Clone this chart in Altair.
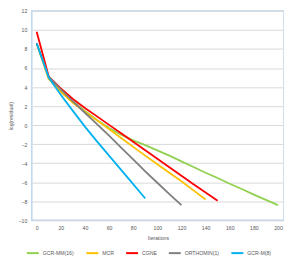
import altair as alt
import pandas as pd

series = ["GCR-MM(16)", "MCR", "CGNE", "ORTHOMIN(1)", "GCR-M(8)"]
colors = ["#92D050", "#FFC000", "#FF0000", "#7F7F7F", "#00B0F0"]

gcrmm_x = [0, 10, 20, 30, 40, 50, 60, 70, 80, 90, 100, 110, 120, 130, 140, 150, 160, 170, 180, 190, 200]
gcrmm_y = [8.6, 4.95, 3.65, 2.5, 1.5, 0.55, -0.3, -1.0, -1.6, -2.1, -2.65, -3.2, -3.8, -4.4, -5.0, -5.55, -6.15, -6.7, -7.3, -7.85, -8.4]

mcr_x = [0, 10, 20, 30, 40, 50, 60, 70, 80, 90, 100, 110, 120, 130, 140]
mcr_y = [8.6, 4.85, 3.5, 2.35, 1.4, 0.5, -0.42, -1.35, -2.28, -3.2, -4.1, -5.0, -5.9, -6.85, -7.8]

cgne_x = [0, 10, 20, 30, 40, 50, 60, 70, 80, 90, 100, 110, 120, 130, 140, 150]
cgne_y = [9.8, 5.1, 3.85, 2.75, 1.8, 0.92, 0.03, -0.86, -1.75, -2.64, -3.53, -4.42, -5.31, -6.2, -7.08, -7.95]

orth_x = [0, 10, 20, 30, 40, 50, 60, 70, 80, 90, 100, 110, 120]
orth_y = [8.6, 5.1, 3.75, 2.5, 1.3, 0.1, -1.1, -2.35, -3.6, -4.85, -6.05, -7.25, -8.4]

gcrm_x = [0, 10, 20, 30, 40, 50, 60, 70, 80, 90]
gcrm_y = [8.6, 5.0, 3.2, 1.5, -0.15, -1.7, -3.2, -4.7, -6.2, -7.7]

x_ticks = [0, 20, 40, 60, 80, 100, 120, 140, 160, 180, 200]
y_ticks = [-10, -8, -6, -4, -2, 0, 2, 4, 6, 8, 10, 12]

rows = []
for name, xs, ys in [
    ("GCR-MM(16)", gcrmm_x, gcrmm_y),
    ("MCR", mcr_x, mcr_y),
    ("CGNE", cgne_x, cgne_y),
    ("ORTHOMIN(1)", orth_x, orth_y),
    ("GCR-M(8)", gcrm_x, gcrm_y),
]:
    for xv, yv in zip(xs, ys):
        rows.append({"series": name, "iter": xv, "res": yv})
df = pd.DataFrame(rows)

font = "Liberation Sans"
txt = "#595959"
fs = 5.2

chart = alt.Chart(df).mark_line(strokeWidth=1.8).encode(
    x=alt.X("iter:Q", title="Iterations",
            scale=alt.Scale(domain=[-4, 205], nice=False, zero=False),
            axis=alt.Axis(values=x_ticks, grid=False, domain=False, ticks=False,
                          labelPadding=5, titlePadding=5, labelFlush=False)),
    y=alt.Y("res:Q", title="log(residual)",
            scale=alt.Scale(domain=[-10, 12], nice=False),
            axis=alt.Axis(values=y_ticks, grid=True, domain=False, ticks=False,
                          labelPadding=5, titlePadding=5)),
    color=alt.Color("series:N", scale=alt.Scale(domain=series, range=colors),
                    sort=series,
                    legend=alt.Legend(title=None, orient="none", direction="horizontal",
                                      legendX=-6, legendY=240, padding=0,
                                      symbolType="M-1,0H3", symbolSize=36, symbolStrokeWidth=2,
                                      columnPadding=8, labelOffset=9)),
).properties(width=254, height=211, padding={"left": 0, "right": 0, "top": 0, "bottom": 0}).configure_axis(
    labelFont=font, titleFont=font, labelFontSize=fs, titleFontSize=fs,
    labelColor=txt, titleColor=txt, titleFontWeight="normal",
    gridColor="#D9D9D9", gridWidth=1,
).configure_legend(
    labelFont=font, labelFontSize=fs, labelColor=txt,
).configure_view(
    stroke="#BDD7EE", strokeWidth=1.5,
)

chart.save("out.html", embed_options={"renderer": "svg", "actions": False})
